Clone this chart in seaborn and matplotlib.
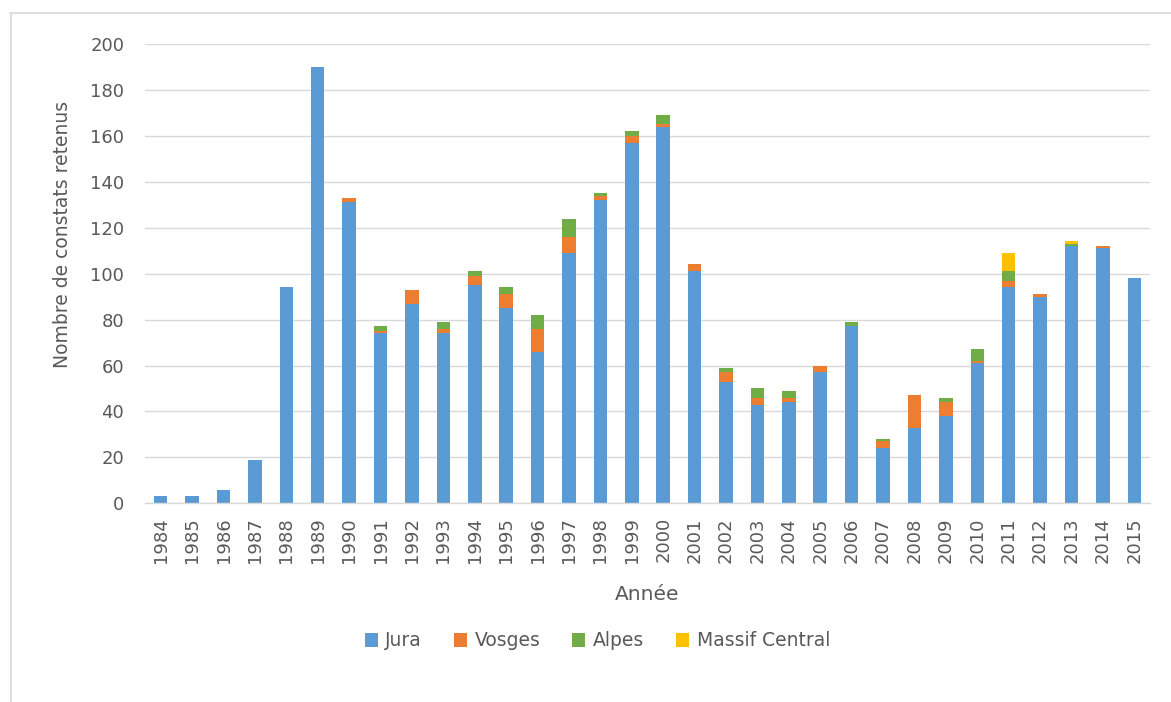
import numpy as np
import pandas as pd
import matplotlib
matplotlib.use("Agg")
import matplotlib.pyplot as plt
from matplotlib.patches import Patch
from matplotlib.lines import Line2D
import seaborn as sns

# Annual counts per massif
years = [str(y) for y in range(1984, 2016)]
jura = [3, 3, 6, 19, 94, 190, 131, 74, 87, 74, 95, 85, 66, 109, 132, 157,
        164, 101, 53, 43, 44, 57, 77, 24, 33, 38, 61, 94, 90, 112, 111, 98]
vosges = [0, 0, 0, 0, 0, 0, 2, 1, 6, 2, 4, 6, 10, 7, 2, 3,
          1, 3, 4, 3, 2, 3, 0, 3, 14, 6, 1, 3, 1, 0, 1, 0]
alpes = [0, 0, 0, 0, 0, 0, 0, 2, 0, 3, 2, 3, 6, 8, 1, 2,
         4, 0, 2, 4, 3, 0, 2, 1, 0, 2, 5, 4, 0, 1, 0, 0]
massif_central = [0, 0, 0, 0, 0, 0, 0, 0, 0, 0, 0, 0, 0, 0, 0, 0,
                  0, 0, 0, 0, 0, 0, 0, 0, 0, 0, 0, 8, 0, 1, 0, 0]

series_names = ["Jura", "Vosges", "Alpes", "Massif Central"]
series_colors = ["#5B9BD5", "#ED7D31", "#70AD47", "#FFC000"]

df = pd.DataFrame({"Année": years, "Jura": jura, "Vosges": vosges,
                   "Alpes": alpes, "Massif Central": massif_central})
# cumulative tops of each stacked segment
cum = df[series_names].cumsum(axis=1)

sns.set_theme(style="white")
plt.rcParams["font.family"] = ["DejaVu Sans"]
text_color = "#595959"
grid_color = "#D9D9D9"

fig = plt.figure(figsize=(11.71, 7.02), dpi=100)
ax = fig.add_axes([145 / 1171, 1 - 503.3 / 702, 1005 / 1171, 459.3 / 702])

# draw the stack from the top segment down so each lower segment covers the one above it
for name, color in reversed(list(zip(series_names, series_colors))):
    sns.barplot(x=df["Année"], y=cum[name], color=color, width=0.43,
                linewidth=0, saturation=1, ax=ax, order=years)

ax.set_ylim(0, 200)
ax.set_xlim(-0.5, len(years) - 0.5)
ax.set_yticks(np.arange(0, 201, 20))
ax.yaxis.grid(True, color=grid_color, linewidth=1)
ax.set_axisbelow(True)
for side in ["top", "right", "left"]:
    ax.spines[side].set_visible(False)
ax.spines["bottom"].set_color(grid_color)
ax.spines["bottom"].set_linewidth(1)

ax.tick_params(axis="x", rotation=90, labelsize=13, colors=text_color,
               length=0, pad=10)
ax.tick_params(axis="y", labelsize=13, colors=text_color, length=0, pad=15)

ax.set_xlabel("Année", fontsize=14.5, color=text_color)
ax.xaxis.set_label_coords(0.5, -0.178)
ax.set_ylabel("Nombre de constats retenus", fontsize=13.5, color=text_color)
ax.yaxis.set_label_coords(-0.0726, 0.586)

handles = [Patch(facecolor=c, edgecolor="none", label=n)
           for n, c in zip(series_names, series_colors)]
leg = fig.legend(handles=handles, loc="center", bbox_to_anchor=(0.51, 1 - 641 / 702),
                 ncol=4, frameon=False, fontsize=13.5, handlelength=0.7,
                 handleheight=0.7, handletextpad=0.4, columnspacing=1.7)
for t in leg.get_texts():
    t.set_color(text_color)

# chart-area frame (top and left edges)
fig.add_artist(Line2D([10 / 1171, 1.0], [1 - 13 / 702, 1 - 13 / 702],
                      transform=fig.transFigure, color=grid_color, linewidth=1.2))
fig.add_artist(Line2D([10.5 / 1171, 10.5 / 1171], [0.0, 1 - 13 / 702],
                      transform=fig.transFigure, color=grid_color, linewidth=1.2))

fig.savefig("out.png", dpi=100, facecolor="white")
